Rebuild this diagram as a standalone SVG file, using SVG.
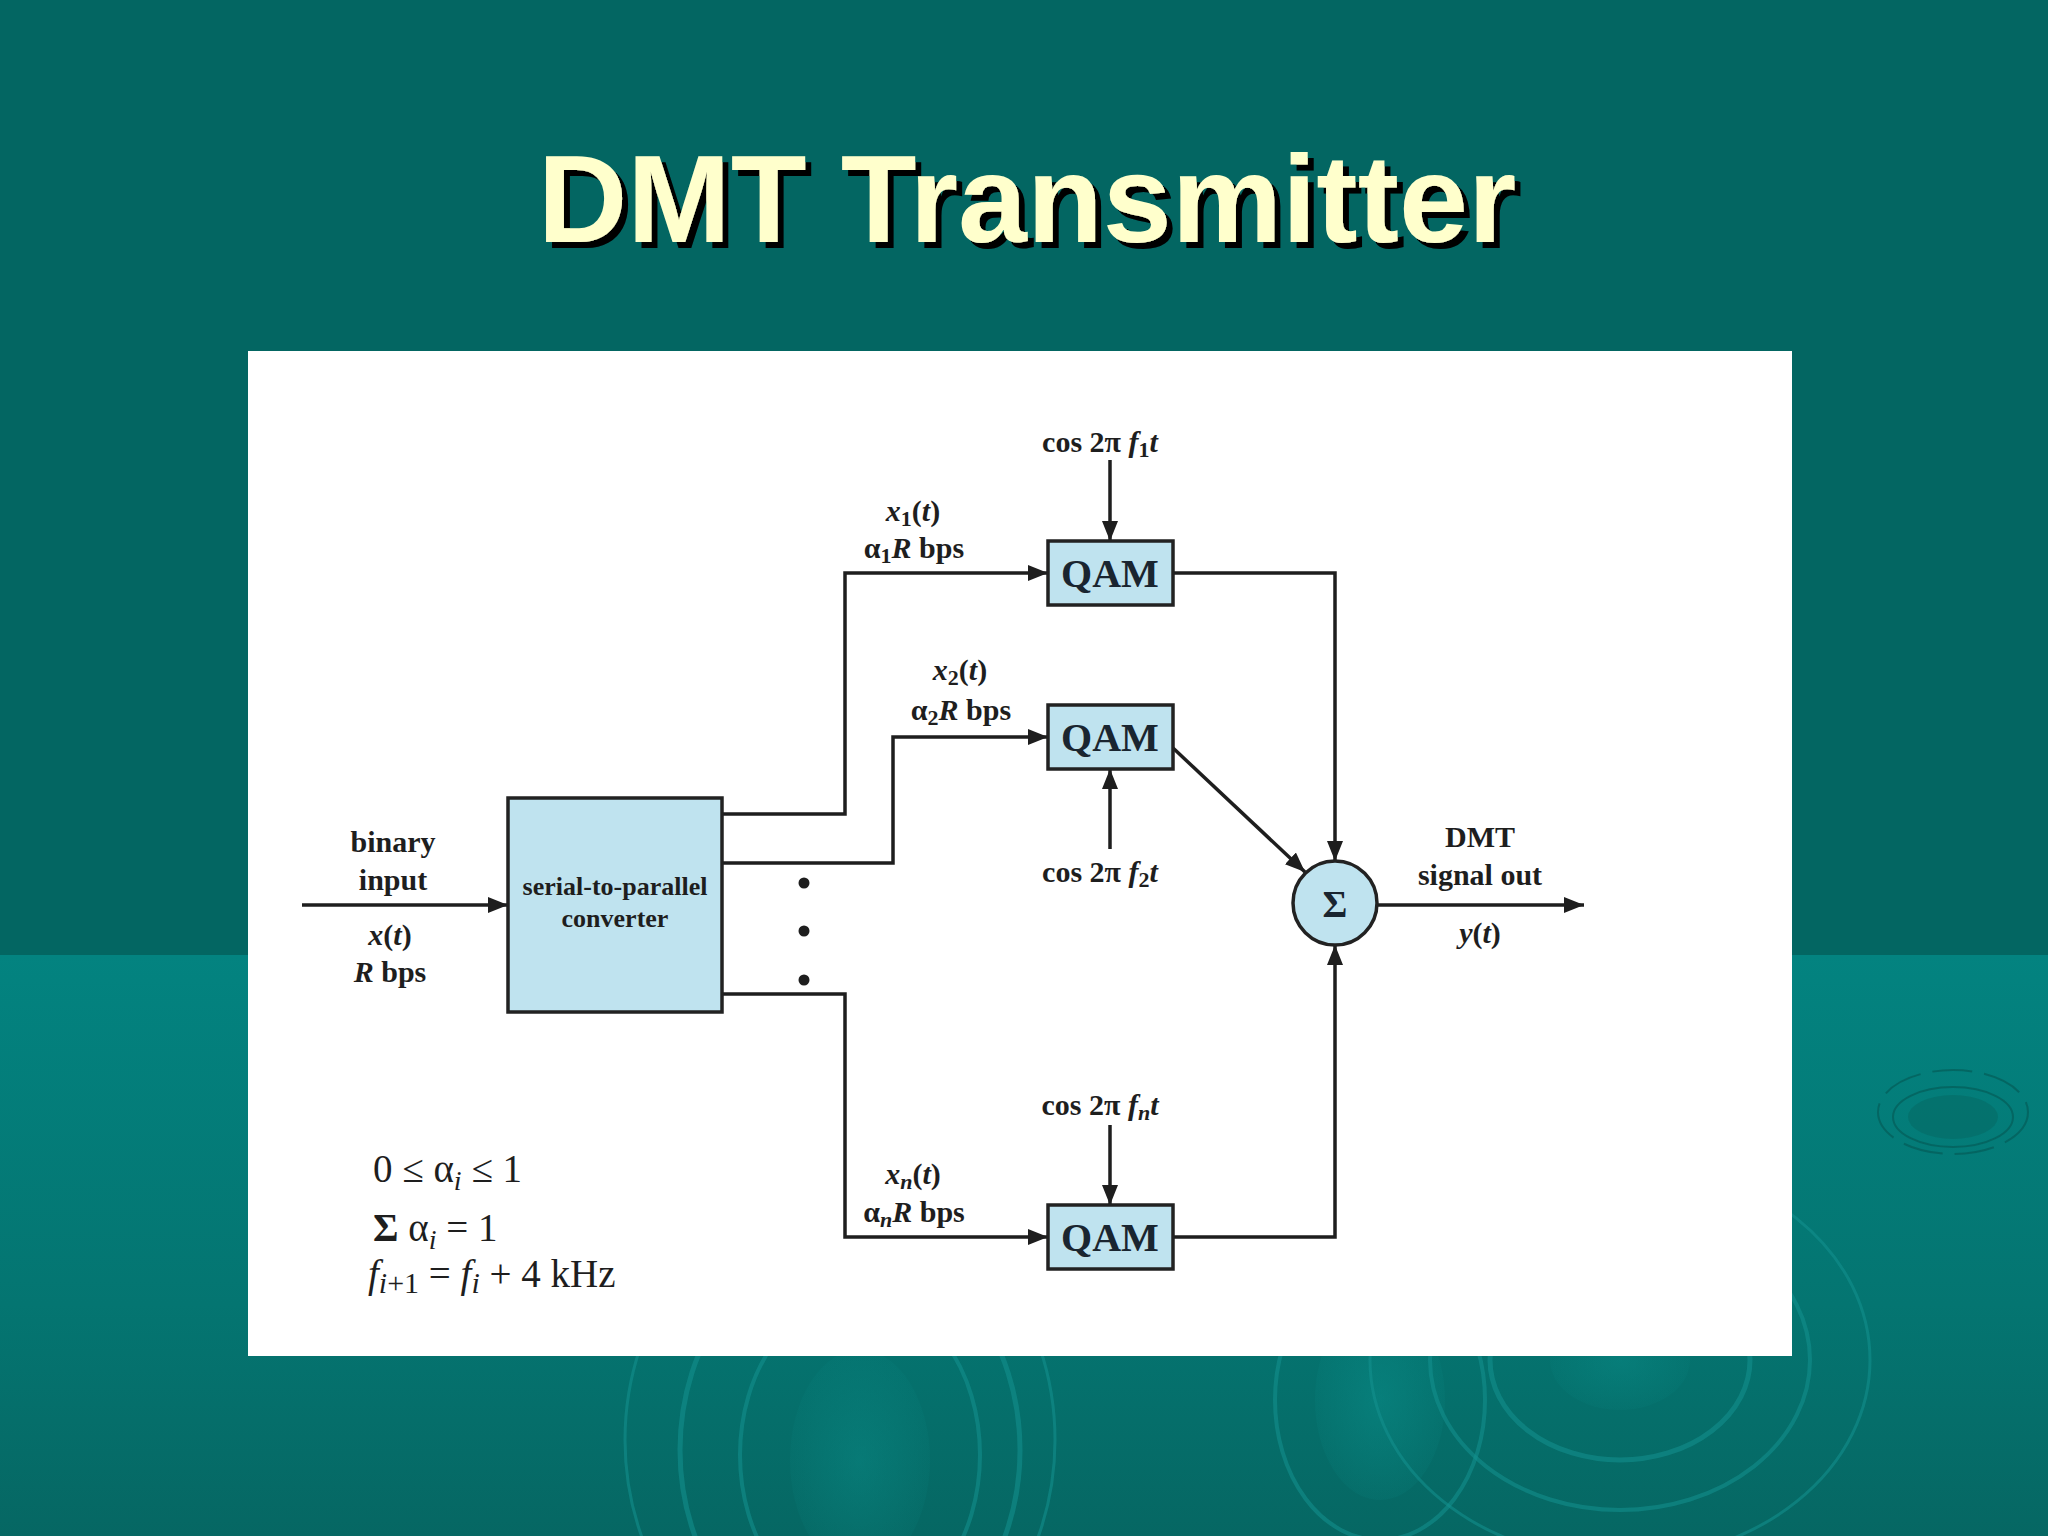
<svg xmlns="http://www.w3.org/2000/svg" width="2048" height="1536" viewBox="0 0 2048 1536">
<defs>
<linearGradient id="lowBand" x1="0" y1="0" x2="0" y2="1">
<stop offset="0" stop-color="#038380"/>
<stop offset="0.6" stop-color="#047571"/>
<stop offset="1" stop-color="#066763"/>
</linearGradient>
<radialGradient id="blob" cx="0.5" cy="0.5" r="0.5">
<stop offset="0" stop-color="#0a8f8b" stop-opacity="0.8"/>
<stop offset="1" stop-color="#0a8f8b" stop-opacity="0.2"/>
</radialGradient>
<filter id="shadow" x="-5%" y="-20%" width="110%" height="140%">
<feDropShadow dx="6" dy="6" stdDeviation="0.5" flood-color="#000" flood-opacity="1"/>
</filter>
<marker id="arr" markerUnits="userSpaceOnUse" markerWidth="22" markerHeight="18" refX="20" refY="8" orient="auto">
<path d="M0,0 L20,8 L0,16 z" fill="#1e1e1e"/>
</marker>
<style>
.lbl{font-family:"Liberation Serif","Times New Roman",serif;font-weight:bold;font-size:30px;fill:#1e1e1e;text-anchor:middle}
.it{font-style:italic}
.qam{font-family:"Liberation Serif","Times New Roman",serif;font-weight:bold;font-size:40px;fill:#1a2530;text-anchor:middle}
.box{fill:#bfe3ef;stroke:#222;stroke-width:3.5}
.wire{fill:none;stroke:#1e1e1e;stroke-width:3.5}
.eq{font-family:"Liberation Serif","Times New Roman",serif;font-size:39px;fill:#1e1e1e}
.rip{fill:none;stroke:#149290;stroke-opacity:0.55}
</style>
</defs>
<rect x="0" y="0" width="2048" height="955" fill="#036662"/>
<rect x="0" y="955" width="2048" height="581" fill="url(#lowBand)"/>
<g id="ripples">
<ellipse cx="860" cy="1460" rx="70" ry="110" fill="url(#blob)" opacity="0.5"/>
<ellipse cx="860" cy="1455" rx="120" ry="160" class="rip" stroke-width="4"/>
<ellipse cx="850" cy="1450" rx="170" ry="210" class="rip" stroke-width="5"/>
<ellipse cx="840" cy="1440" rx="215" ry="250" class="rip" stroke-width="3"/>
<ellipse cx="1380" cy="1400" rx="65" ry="100" fill="url(#blob)" opacity="0.6"/>
<ellipse cx="1380" cy="1400" rx="105" ry="140" class="rip" stroke-width="4"/>
<ellipse cx="1620" cy="1360" rx="70" ry="50" fill="url(#blob)" opacity="0.5"/>
<ellipse cx="1620" cy="1360" rx="130" ry="100" class="rip" stroke-width="5"/>
<ellipse cx="1620" cy="1360" rx="190" ry="150" class="rip" stroke-width="4"/>
<ellipse cx="1620" cy="1360" rx="250" ry="200" class="rip" stroke-width="3"/>
<ellipse cx="1953" cy="1117" rx="45" ry="22" fill="#056a66" opacity="0.6"/>
<ellipse cx="1953" cy="1117" rx="60" ry="30" fill="none" stroke="#045c58" stroke-width="2" stroke-opacity="0.7"/>
<ellipse cx="1953" cy="1112" rx="75" ry="42" fill="none" stroke="#045c58" stroke-width="2" stroke-opacity="0.7" stroke-dasharray="40 12"/>
</g>
<g id="title">
<text x="1027" y="242" font-family="'Liberation Sans',Arial,sans-serif" font-weight="bold" font-size="124" text-anchor="middle" fill="#ffffcc" filter="url(#shadow)">DMT Transmitter</text>
</g>
<rect id="panel" x="248" y="351" width="1544" height="1005" fill="#ffffff"/>
<g id="connectors">
<path class="wire" d="M302,905 H508" marker-end="url(#arr)"/>
<path class="wire" d="M722,814 H845 V573 H1048" marker-end="url(#arr)"/>
<path class="wire" d="M722,863 H893 V737 H1048" marker-end="url(#arr)"/>
<path class="wire" d="M722,994 H845 V1237 H1048" marker-end="url(#arr)"/>
<path class="wire" d="M1110,460 V541" marker-end="url(#arr)"/>
<path class="wire" d="M1110,849 V769" marker-end="url(#arr)"/>
<path class="wire" d="M1110,1125 V1205" marker-end="url(#arr)"/>
<path class="wire" d="M1173,573 H1335 V861" marker-end="url(#arr)"/>
<path class="wire" d="M1173,748 L1305,872" marker-end="url(#arr)"/>
<path class="wire" d="M1173,1237 H1335 V945" marker-end="url(#arr)"/>
<path class="wire" d="M1378,905 H1584" marker-end="url(#arr)"/>
<circle cx="804" cy="883" r="5.5" fill="#1e1e1e"/>
<circle cx="804" cy="931" r="5.5" fill="#1e1e1e"/>
<circle cx="804" cy="980" r="5.5" fill="#1e1e1e"/>
</g>
<g id="s2p">
<rect class="box" x="508" y="798" width="214" height="214"/>
<text class="lbl" x="615" y="895" style="font-size:26px">serial-to-parallel</text>
<text class="lbl" x="615" y="927" style="font-size:26px">converter</text>
</g>
<g id="qam1">
<rect class="box" x="1048" y="541" width="125" height="64"/>
<text class="qam" x="1110" y="587">QAM</text>
</g>
<g id="qam2">
<rect class="box" x="1048" y="705" width="125" height="64"/>
<text class="qam" x="1110" y="751">QAM</text>
</g>
<g id="qamn">
<rect class="box" x="1048" y="1205" width="125" height="64"/>
<text class="qam" x="1110" y="1251">QAM</text>
</g>
<g id="sum">
<circle cx="1335" cy="903" r="42" fill="#bfe3ef" stroke="#222" stroke-width="3.5"/>
<text x="1335" y="917" font-family="'Liberation Serif','Times New Roman',serif" font-weight="bold" font-size="38" text-anchor="middle" fill="#1a2530">Σ</text>
</g>
<g id="labels">
<text class="lbl" x="393" y="852">binary</text>
<text class="lbl" x="393" y="890">input</text>
<text class="lbl" x="390" y="945"><tspan class="it">x</tspan>(<tspan class="it">t</tspan>)</text>
<text class="lbl" x="390" y="982"><tspan class="it">R</tspan> bps</text>
<text class="lbl" x="1480" y="847">DMT</text>
<text class="lbl" x="1480" y="885">signal out</text>
<text class="lbl" x="1480" y="943"><tspan class="it">y</tspan>(<tspan class="it">t</tspan>)</text>
<text class="lbl" x="1100" y="452">cos 2π <tspan class="it">f</tspan><tspan dy="5" font-size="22">1</tspan><tspan class="it" dy="-5">t</tspan></text>
<text class="lbl" x="1100" y="882">cos 2π <tspan class="it">f</tspan><tspan dy="5" font-size="22">2</tspan><tspan class="it" dy="-5">t</tspan></text>
<text class="lbl" x="1100" y="1115">cos 2π <tspan class="it">f</tspan><tspan class="it" dy="5" font-size="22">n</tspan><tspan class="it" dy="-5">t</tspan></text>
<text class="lbl" x="913" y="521"><tspan class="it">x</tspan><tspan dy="5" font-size="22">1</tspan><tspan dy="-5">(</tspan><tspan class="it">t</tspan>)</text>
<text class="lbl" x="914" y="558">α<tspan dy="5" font-size="22">1</tspan><tspan class="it" dy="-5">R</tspan> bps</text>
<text class="lbl" x="960" y="680"><tspan class="it">x</tspan><tspan dy="5" font-size="22">2</tspan><tspan dy="-5">(</tspan><tspan class="it">t</tspan>)</text>
<text class="lbl" x="961" y="720">α<tspan dy="5" font-size="22">2</tspan><tspan class="it" dy="-5">R</tspan> bps</text>
<text class="lbl" x="913" y="1184"><tspan class="it">x</tspan><tspan class="it" dy="5" font-size="22">n</tspan><tspan dy="-5">(</tspan><tspan class="it">t</tspan>)</text>
<text class="lbl" x="914" y="1222">α<tspan class="it" dy="5" font-size="22">n</tspan><tspan class="it" dy="-5">R</tspan> bps</text>
</g>
<g id="equations">
<text class="eq" x="373" y="1182">0 ≤ α<tspan class="it" dy="8" font-size="28">i</tspan><tspan dy="-8">  ≤ 1</tspan></text>
<text class="eq" x="373" y="1241"><tspan font-weight="bold">Σ</tspan> α<tspan class="it" dy="8" font-size="28">i</tspan><tspan dy="-8"> = 1</tspan></text>
<text class="eq" x="368" y="1287"><tspan class="it">f</tspan><tspan class="it" dy="6" font-size="30">i</tspan><tspan font-size="30">+1</tspan><tspan dy="-6"> = </tspan><tspan class="it">f</tspan><tspan class="it" dy="6" font-size="30">i</tspan><tspan dy="-6"> + 4 kHz</tspan></text>
</g>
</svg>
